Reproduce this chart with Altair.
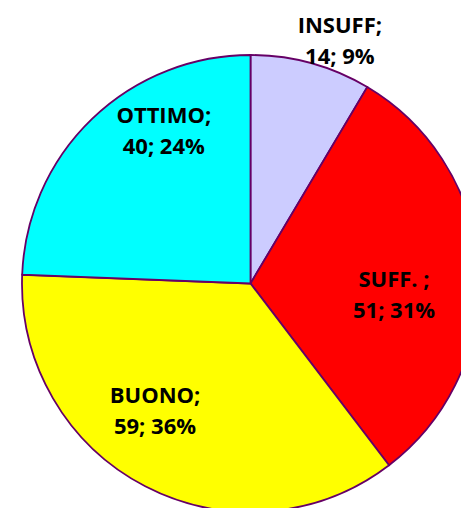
import math
import altair as alt
import pandas as pd

categories = ["INSUFF;", "SUFF. ;", "BUONO;", "OTTIMO;"]
values = [14, 51, 59, 40]
colors = ["#CCCCFF", "#FF0000", "#FFFF00", "#00FFFF"]

# label placement (layout only)
label_shift_deg = [4.9, 7.9, 9.2, 14.2]
label_radius = [258, 144, 160, 175]

total = sum(values)
rows = []
cum = 0
for i, (c, v) in enumerate(zip(categories, values)):
    mid = (cum + v / 2) / total * 360
    cum += v
    pct = round(v / total * 100)
    rows.append({
        "cat": c,
        "value": v,
        "idx": i,
        "label": f"{c}\n{v}; {pct}%",
        "label_angle": mid + label_shift_deg[i],
        "label_r": label_radius[i],
    })
df = pd.DataFrame(rows)

CX, CY, R = 242.5, 275.5, 228.5

arcs = alt.Chart(df).mark_arc(
    outerRadius=R, stroke="#660066", strokeWidth=1.8
).encode(
    theta=alt.Theta("value:Q", stack=True),
    order=alt.Order("idx:Q"),
    color=alt.Color("cat:N", scale=alt.Scale(domain=categories, range=colors), legend=None),
    x=alt.value(CX),
    y=alt.value(CY),
)

labels = alt.Chart(df).mark_text(
    font="Open Sans", fontWeight="bold", fontSize=22, lineBreak="\n",
    lineHeight=31, align="center", baseline="middle", dy=-15.5, color="#000000"
).encode(
    theta=alt.Theta("label_angle:Q", scale=alt.Scale(domain=[0, 360], range=[0, 2 * math.pi])),
    radius=alt.Radius("label_r:Q", scale=None),
    text="label:N",
    x=alt.value(CX),
    y=alt.value(CY),
)

chart = alt.layer(arcs, labels).resolve_scale(theta="independent").properties(
    width=453, height=500, padding=0, autosize=alt.AutoSizeParams(type="none")
).configure_view(stroke=None)

chart.save("out.html", embed_options={"renderer": "svg", "actions": False})
